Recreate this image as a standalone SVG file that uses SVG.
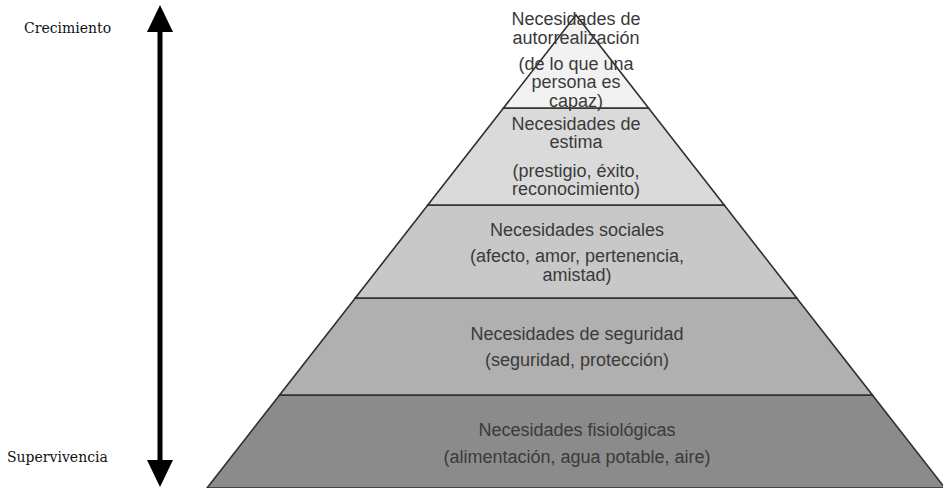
<svg xmlns="http://www.w3.org/2000/svg" width="943" height="488" viewBox="0 0 943 488">
<style>
.lvl{stroke:#2e2e2e;stroke-width:1.6;stroke-linejoin:miter}
.t{font-family:"Liberation Sans",Arial,sans-serif;font-size:18px;fill:#3a3a3a;text-anchor:middle}
.side{font-family:"DejaVu Serif",serif;font-size:14px;fill:#111}
</style>
<defs>
<marker id="ah" viewBox="0 0 27 26" refX="0" refY="13" markerWidth="27" markerHeight="26" markerUnits="userSpaceOnUse" orient="auto-start-reverse">
<path d="M0,0 L27,13 L0,26 z" fill="#000"/>
</marker>
</defs>
<rect width="943" height="488" fill="#fff"/>
<g id="fisiologicas">
<polygon class="lvl" points="279.6,395 872.4,395 945,488 207,488" fill="#8b8b8b"/>
<text class="t" x="577" y="436">Necesidades fisiológicas</text>
<text class="t" x="577" y="463">(alimentación, agua potable, aire)</text>
</g>
<g id="seguridad">
<polygon class="lvl" points="355.3,298 796.7,298 872.4,395 279.6,395" fill="#b0b0b0"/>
<text class="t" x="577" y="340">Necesidades de seguridad</text>
<text class="t" x="577" y="366">(seguridad, protección)</text>
</g>
<g id="sociales">
<polygon class="lvl" points="427.8,205 724.2,205 796.7,298 355.3,298" fill="#c8c8c8"/>
<text class="t" x="577" y="236">Necesidades sociales</text>
<text class="t" x="577" y="262">(afecto, amor, pertenencia,</text>
<text class="t" x="577" y="281">amistad)</text>
</g>
<g id="estima">
<polygon class="lvl" points="503.5,108 648.5,108 724.2,205 427.8,205" fill="#dadada"/>
<text class="t" x="576" y="130">Necesidades de</text>
<text class="t" x="576" y="148">estima</text>
<text class="t" x="576" y="177">(prestigio, éxito,</text>
<text class="t" x="576" y="195">reconocimiento)</text>
</g>
<g id="autorrealizacion">
<polygon class="lvl" points="576,15 648.5,108 503.5,108" fill="#f2f2f2"/>
<text class="t" x="576" y="25">Necesidades de</text>
<text class="t" x="576" y="44">autorrealización</text>
<text class="t" x="576" y="70">(de lo que una</text>
<text class="t" x="576" y="88">persona es</text>
<text class="t" x="576" y="107">capaz)</text>
</g>
<g id="crecimiento">
<text class="side" x="24" y="33">Crecimiento</text>
</g>
<g id="supervivencia">
<text class="side" x="7" y="462">Supervivencia</text>
</g>
<g id="connectors">
<line x1="160" y1="32" x2="160" y2="460" stroke="#000" stroke-width="5" marker-start="url(#ah)" marker-end="url(#ah)"/>
</g>
</svg>
